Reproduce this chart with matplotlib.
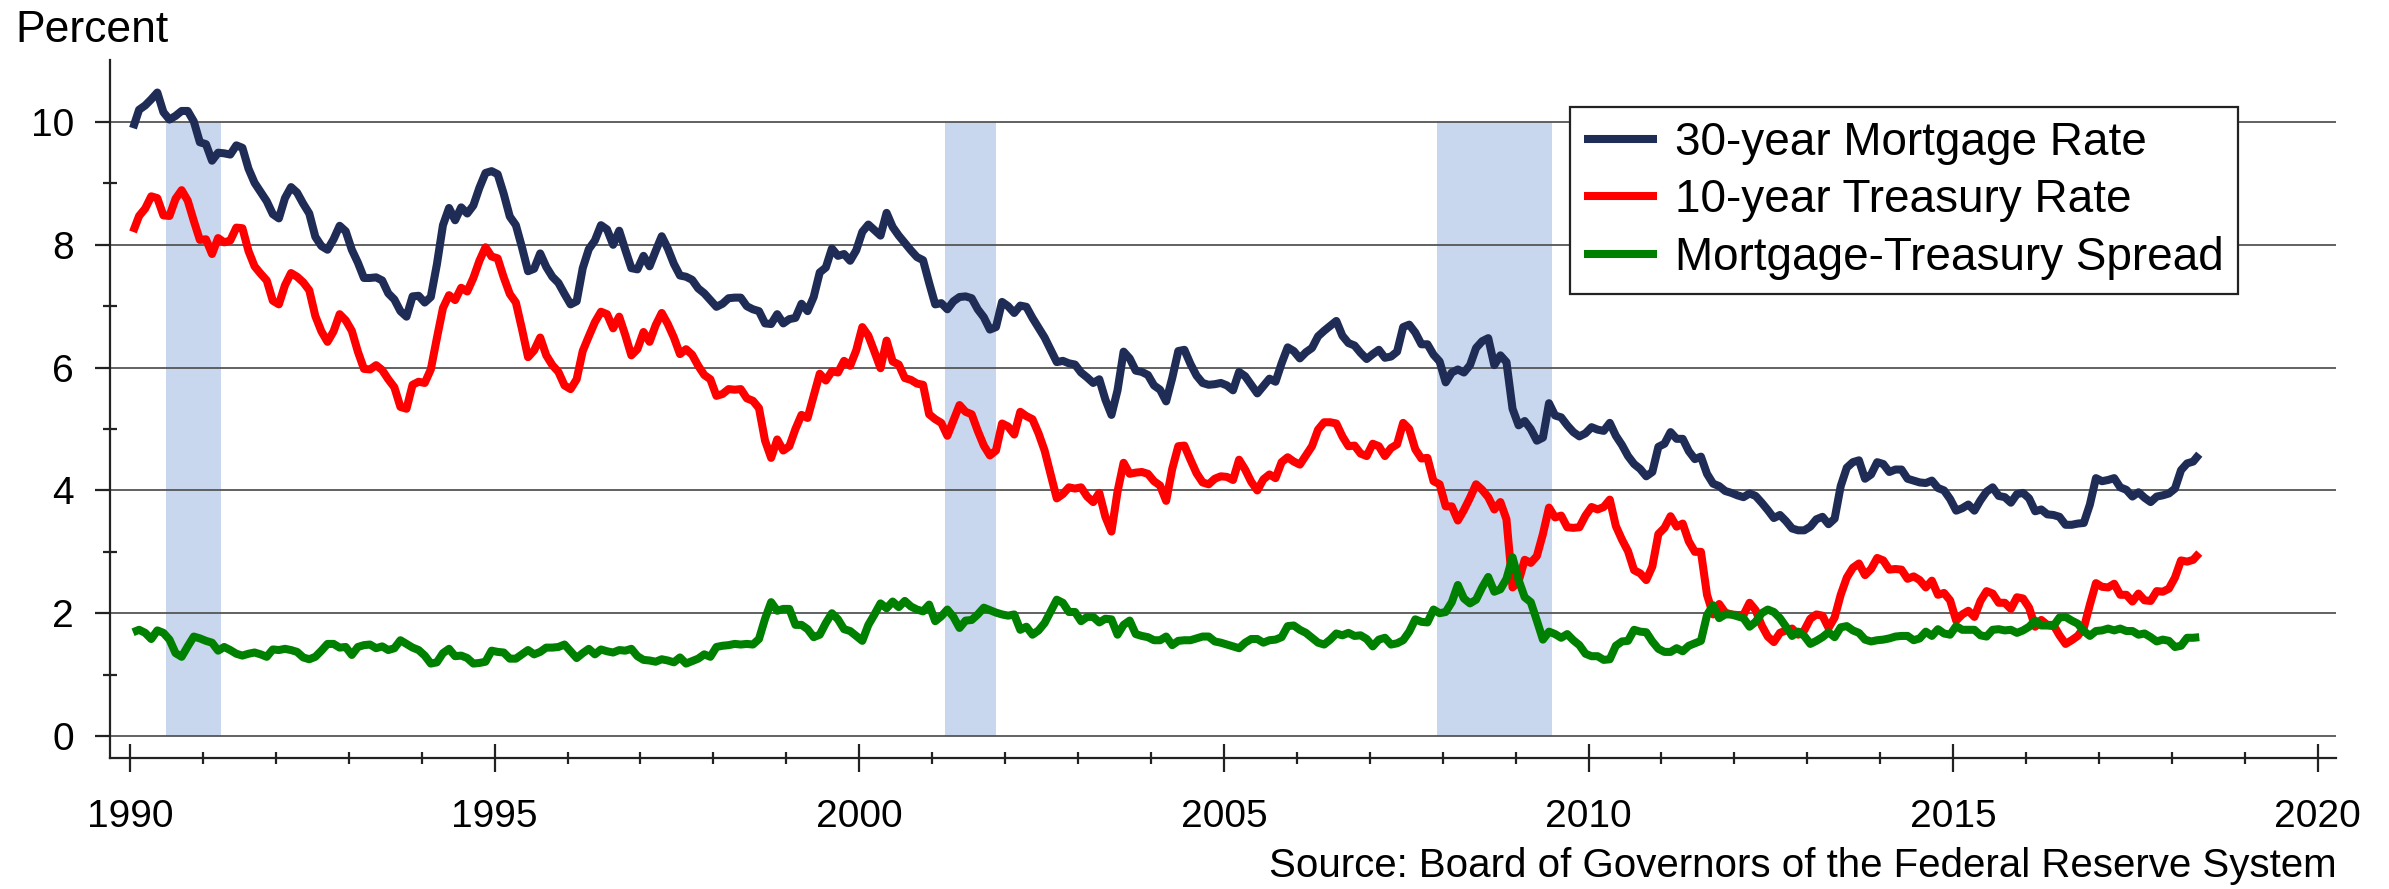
import matplotlib
matplotlib.use("Agg")
import matplotlib.pyplot as plt
import numpy as np
from matplotlib.ticker import MultipleLocator, FixedLocator

plt.rcParams['font.family'] = ['Liberation Sans', 'DejaVu Sans']

start_year = 1990

# 30-year mortgage rate, monthly (Jan 1990 - May 2018)
mortgage_rate = [
    9.90, 10.20, 10.27, 10.37, 10.48, 10.16, 10.04, 10.10, 10.18, 10.18, 10.01, 9.67,   # 1990
    9.64, 9.37, 9.50, 9.49, 9.47, 9.62, 9.58, 9.24, 9.01, 8.86, 8.71, 8.50,            # 1991
    8.43, 8.76, 8.94, 8.85, 8.67, 8.51, 8.13, 7.98, 7.92, 8.09, 8.31, 8.22,            # 1992
    7.92, 7.71, 7.46, 7.46, 7.47, 7.42, 7.21, 7.11, 6.92, 6.83, 7.16, 7.17,            # 1993
    7.06, 7.15, 7.68, 8.32, 8.60, 8.40, 8.61, 8.51, 8.64, 8.93, 9.17, 9.20,            # 1994
    9.15, 8.83, 8.46, 8.32, 7.96, 7.57, 7.61, 7.86, 7.64, 7.48, 7.38, 7.20,            # 1995
    7.03, 7.08, 7.62, 7.93, 8.07, 8.32, 8.25, 8.00, 8.23, 7.92, 7.62, 7.60,            # 1996
    7.82, 7.65, 7.90, 8.14, 7.94, 7.69, 7.50, 7.48, 7.43, 7.29, 7.21, 7.10,            # 1997
    6.99, 7.04, 7.13, 7.14, 7.14, 7.00, 6.95, 6.92, 6.72, 6.71, 6.87, 6.72,            # 1998
    6.79, 6.81, 7.04, 6.92, 7.15, 7.55, 7.63, 7.94, 7.82, 7.85, 7.74, 7.91,            # 1999
    8.21, 8.33, 8.24, 8.15, 8.52, 8.29, 8.15, 8.03, 7.91, 7.80, 7.75, 7.38,            # 2000
    7.03, 7.05, 6.95, 7.08, 7.15, 7.16, 7.13, 6.95, 6.82, 6.62, 6.66, 7.07,            # 2001
    7.00, 6.89, 7.01, 6.99, 6.81, 6.65, 6.49, 6.29, 6.09, 6.11, 6.07, 6.05,            # 2002
    5.92, 5.84, 5.75, 5.81, 5.48, 5.23, 5.63, 6.26, 6.15, 5.95, 5.93, 5.88,            # 2003
    5.71, 5.64, 5.45, 5.83, 6.27, 6.29, 6.06, 5.87, 5.75, 5.72, 5.73, 5.75,            # 2004
    5.71, 5.63, 5.93, 5.86, 5.72, 5.58, 5.70, 5.82, 5.77, 6.07, 6.33, 6.27,            # 2005
    6.15, 6.25, 6.32, 6.51, 6.60, 6.68, 6.76, 6.52, 6.40, 6.36, 6.24, 6.14,            # 2006
    6.22, 6.29, 6.16, 6.18, 6.26, 6.66, 6.70, 6.57, 6.38, 6.38, 6.21, 6.10,            # 2007
    5.76, 5.92, 5.97, 5.92, 6.04, 6.32, 6.43, 6.48, 6.04, 6.20, 6.09, 5.33,            # 2008
    5.06, 5.13, 5.00, 4.81, 4.86, 5.42, 5.22, 5.19, 5.06, 4.95, 4.88, 4.93,            # 2009
    5.03, 4.99, 4.97, 5.10, 4.89, 4.74, 4.56, 4.43, 4.35, 4.23, 4.30, 4.71,            # 2010
    4.76, 4.95, 4.84, 4.84, 4.64, 4.51, 4.55, 4.27, 4.11, 4.07, 3.99, 3.96,            # 2011
    3.92, 3.89, 3.95, 3.91, 3.80, 3.68, 3.55, 3.60, 3.50, 3.38, 3.35, 3.35,            # 2012
    3.41, 3.53, 3.57, 3.45, 3.54, 4.07, 4.37, 4.46, 4.49, 4.19, 4.26, 4.46,            # 2013
    4.43, 4.30, 4.34, 4.34, 4.19, 4.16, 4.13, 4.12, 4.16, 4.04, 4.00, 3.86,            # 2014
    3.67, 3.71, 3.77, 3.67, 3.84, 3.98, 4.05, 3.91, 3.89, 3.80, 3.94, 3.96,            # 2015
    3.87, 3.66, 3.69, 3.61, 3.60, 3.57, 3.44, 3.44, 3.46, 3.47, 3.77, 4.20,            # 2016
    4.15, 4.17, 4.20, 4.05, 4.01, 3.90, 3.97, 3.88, 3.81, 3.90, 3.92, 3.95,            # 2017
    4.03, 4.33, 4.44, 4.47, 4.59,                                                      # 2018
]

# 10-year Treasury rate, monthly
treasury_rate = [
    8.21, 8.47, 8.59, 8.79, 8.76, 8.48, 8.47, 8.75, 8.89, 8.72, 8.39, 8.08,   # 1990
    8.09, 7.85, 8.11, 8.04, 8.07, 8.28, 8.27, 7.90, 7.65, 7.53, 7.42, 7.09,   # 1991
    7.03, 7.34, 7.54, 7.48, 7.39, 7.26, 6.84, 6.59, 6.42, 6.59, 6.87, 6.77,   # 1992
    6.60, 6.26, 5.98, 5.97, 6.04, 5.96, 5.81, 5.68, 5.36, 5.33, 5.72, 5.77,   # 1993
    5.75, 5.97, 6.48, 6.97, 7.18, 7.10, 7.30, 7.24, 7.46, 7.74, 7.96, 7.81,   # 1994
    7.78, 7.47, 7.20, 7.06, 6.63, 6.17, 6.28, 6.49, 6.20, 6.04, 5.93, 5.71,   # 1995
    5.65, 5.81, 6.27, 6.51, 6.74, 6.91, 6.87, 6.64, 6.83, 6.53, 6.20, 6.30,   # 1996
    6.58, 6.42, 6.69, 6.89, 6.71, 6.49, 6.22, 6.30, 6.21, 6.03, 5.88, 5.81,   # 1997
    5.54, 5.57, 5.65, 5.64, 5.65, 5.50, 5.46, 5.34, 4.81, 4.53, 4.83, 4.65,   # 1998
    4.72, 5.00, 5.23, 5.18, 5.54, 5.90, 5.79, 5.94, 5.92, 6.11, 6.03, 6.28,   # 1999
    6.66, 6.52, 6.26, 5.99, 6.44, 6.10, 6.05, 5.83, 5.80, 5.74, 5.72, 5.24,   # 2000
    5.16, 5.10, 4.89, 5.14, 5.39, 5.28, 5.24, 4.97, 4.73, 4.57, 4.65, 5.09,   # 2001
    5.04, 4.91, 5.28, 5.21, 5.16, 4.93, 4.65, 4.26, 3.87, 3.94, 4.05, 4.03,   # 2002
    4.05, 3.90, 3.81, 3.96, 3.57, 3.33, 3.98, 4.45, 4.27, 4.29, 4.30, 4.27,   # 2003
    4.15, 4.08, 3.83, 4.35, 4.72, 4.73, 4.50, 4.28, 4.13, 4.10, 4.19, 4.23,   # 2004
    4.22, 4.17, 4.50, 4.34, 4.14, 4.00, 4.18, 4.26, 4.20, 4.46, 4.54, 4.47,   # 2005
    4.42, 4.57, 4.72, 4.99, 5.11, 5.11, 5.09, 4.88, 4.72, 4.73, 4.60, 4.56,   # 2006
    4.76, 4.72, 4.56, 4.69, 4.75, 5.10, 5.00, 4.67, 4.52, 4.53, 4.15, 4.10,   # 2007
    3.74, 3.74, 3.51, 3.68, 3.88, 4.10, 4.01, 3.89, 3.69, 3.81, 3.53, 2.42,   # 2008
    2.52, 2.87, 2.82, 2.93, 3.29, 3.72, 3.56, 3.59, 3.40, 3.39, 3.40, 3.59,   # 2009
    3.73, 3.69, 3.73, 3.85, 3.42, 3.20, 3.01, 2.70, 2.65, 2.54, 2.76, 3.29,   # 2010
    3.39, 3.58, 3.41, 3.46, 3.17, 3.00, 3.00, 2.30, 1.98, 2.15, 2.01, 1.98,   # 2011
    1.97, 1.97, 2.17, 2.05, 1.80, 1.62, 1.53, 1.68, 1.72, 1.75, 1.65, 1.72,   # 2012
    1.91, 1.98, 1.96, 1.76, 1.93, 2.30, 2.58, 2.74, 2.81, 2.62, 2.72, 2.90,   # 2013
    2.86, 2.71, 2.72, 2.71, 2.56, 2.60, 2.54, 2.42, 2.53, 2.30, 2.33, 2.21,   # 2014
    1.88, 1.98, 2.04, 1.94, 2.20, 2.36, 2.32, 2.17, 2.17, 2.07, 2.26, 2.24,   # 2015
    2.09, 1.78, 1.89, 1.81, 1.81, 1.64, 1.50, 1.56, 1.63, 1.76, 2.14, 2.49,   # 2016
    2.43, 2.42, 2.48, 2.30, 2.30, 2.19, 2.32, 2.21, 2.20, 2.36, 2.35, 2.40,   # 2017
    2.58, 2.86, 2.84, 2.87, 2.98,                                             # 2018
]

# Mortgage-Treasury spread, monthly
spread = [
    1.69, 1.73, 1.68, 1.58, 1.72, 1.68, 1.57, 1.35, 1.29, 1.46, 1.62, 1.59,   # 1990
    1.55, 1.52, 1.39, 1.45, 1.40, 1.34, 1.31, 1.34, 1.36, 1.33, 1.29, 1.41,   # 1991
    1.40, 1.42, 1.40, 1.37, 1.28, 1.25, 1.29, 1.39, 1.50, 1.50, 1.44, 1.45,   # 1992
    1.32, 1.45, 1.48, 1.49, 1.43, 1.46, 1.40, 1.43, 1.56, 1.50, 1.44, 1.40,   # 1993
    1.31, 1.18, 1.20, 1.35, 1.42, 1.30, 1.31, 1.27, 1.18, 1.19, 1.21, 1.39,   # 1994
    1.37, 1.36, 1.26, 1.26, 1.33, 1.40, 1.33, 1.37, 1.44, 1.44, 1.45, 1.49,   # 1995
    1.38, 1.27, 1.35, 1.42, 1.33, 1.41, 1.38, 1.36, 1.40, 1.39, 1.42, 1.30,   # 1996
    1.24, 1.23, 1.21, 1.25, 1.23, 1.20, 1.28, 1.18, 1.22, 1.26, 1.33, 1.29,   # 1997
    1.45, 1.47, 1.48, 1.50, 1.49, 1.50, 1.49, 1.58, 1.91, 2.18, 2.04, 2.07,   # 1998
    2.07, 1.81, 1.81, 1.74, 1.61, 1.65, 1.84, 2.00, 1.90, 1.74, 1.71, 1.63,   # 1999
    1.55, 1.81, 1.98, 2.16, 2.08, 2.19, 2.10, 2.20, 2.11, 2.06, 2.03, 2.14,   # 2000
    1.87, 1.95, 2.06, 1.94, 1.76, 1.88, 1.89, 1.98, 2.09, 2.05, 2.01, 1.98,   # 2001
    1.96, 1.98, 1.73, 1.78, 1.65, 1.72, 1.84, 2.03, 2.22, 2.17, 2.02, 2.02,   # 2002
    1.87, 1.94, 1.94, 1.85, 1.91, 1.90, 1.65, 1.81, 1.88, 1.66, 1.63, 1.61,   # 2003
    1.56, 1.56, 1.62, 1.48, 1.55, 1.56, 1.56, 1.59, 1.62, 1.62, 1.54, 1.52,   # 2004
    1.49, 1.46, 1.43, 1.52, 1.58, 1.58, 1.52, 1.56, 1.57, 1.61, 1.79, 1.80,   # 2005
    1.73, 1.68, 1.60, 1.52, 1.49, 1.57, 1.67, 1.64, 1.68, 1.63, 1.64, 1.58,   # 2006
    1.46, 1.57, 1.60, 1.49, 1.51, 1.56, 1.70, 1.90, 1.86, 1.85, 2.06, 2.00,   # 2007
    2.02, 2.18, 2.46, 2.24, 2.16, 2.22, 2.42, 2.59, 2.35, 2.39, 2.56, 2.91,   # 2008
    2.54, 2.26, 2.18, 1.88, 1.57, 1.70, 1.66, 1.60, 1.66, 1.56, 1.48, 1.34,   # 2009
    1.30, 1.30, 1.24, 1.25, 1.47, 1.54, 1.55, 1.73, 1.70, 1.69, 1.54, 1.42,   # 2010
    1.37, 1.37, 1.43, 1.38, 1.47, 1.51, 1.55, 1.97, 2.13, 1.92, 1.98, 1.98,   # 2011
    1.95, 1.92, 1.78, 1.86, 2.00, 2.06, 2.02, 1.92, 1.78, 1.63, 1.70, 1.63,   # 2012
    1.50, 1.55, 1.61, 1.69, 1.61, 1.77, 1.79, 1.72, 1.68, 1.57, 1.54, 1.56,   # 2013
    1.57, 1.59, 1.62, 1.63, 1.63, 1.56, 1.59, 1.70, 1.63, 1.74, 1.67, 1.65,   # 2014
    1.79, 1.73, 1.73, 1.73, 1.64, 1.62, 1.73, 1.74, 1.72, 1.73, 1.68, 1.72,   # 2015
    1.78, 1.88, 1.80, 1.80, 1.79, 1.93, 1.94, 1.88, 1.83, 1.71, 1.63, 1.71,   # 2016
    1.72, 1.75, 1.72, 1.75, 1.71, 1.71, 1.65, 1.67, 1.61, 1.54, 1.57, 1.55,   # 2017
    1.45, 1.47, 1.60, 1.60, 1.61,                                             # 2018
]

series_labels = ["30-year Mortgage Rate", "10-year Treasury Rate", "Mortgage-Treasury Spread"]
series_colors = ["#1F2C56", "#FF0000", "#008000"]

recession_start = [1990.50, 2001.17, 2007.92]
recession_end = [1991.25, 2001.88, 2009.50]

x_ticks = [1990, 1995, 2000, 2005, 2010, 2015, 2020]
y_ticks = [0, 2, 4, 6, 8, 10]

W, H = 2389, 889
fig = plt.figure(figsize=(W / 100, H / 100), dpi=100)
ax = fig.add_axes([110 / W, (H - 758) / H, (2336 - 110) / W, (758 - 60) / H])

n = len(mortgage_rate)
dates = start_year + (np.arange(n) + 0.5) / 12.0

for s, e in zip(recession_start, recession_end):
    ax.fill_between([s, e], 0, 10, color="#C9D7EE", linewidth=0, zorder=1)

for vals, lab, col in zip([mortgage_rate, treasury_rate, spread], series_labels, series_colors):
    ax.plot(dates, vals, color=col, linewidth=5.8, label=lab, zorder=3,
            solid_joinstyle='round', solid_capstyle='butt')

ax.set_xlim(1989.726, 2020.25)
ax.set_ylim(-0.358, 11.01)

for sp in ['top', 'right']:
    ax.spines[sp].set_visible(False)
for sp in ['left', 'bottom']:
    ax.spines[sp].set_linewidth(1.6)
    ax.spines[sp].set_color('#222222')

ax.set_yticks(y_ticks)
ax.yaxis.set_minor_locator(FixedLocator([1, 3, 5, 7, 9]))
ax.set_xticks(x_ticks)
ax.xaxis.set_minor_locator(MultipleLocator(1))

ax.tick_params(axis='y', which='major', direction='out', length=11, width=1.6,
               labelsize=28, pad=15, color='#222222')
ax.tick_params(axis='y', which='minor', direction='inout', length=10, width=1.6, color='#222222')
ax.tick_params(axis='x', which='major', direction='inout', length=19.5, width=1.6,
               labelsize=28, pad=20, color='#222222')
ax.tick_params(axis='x', which='minor', direction='inout', length=8.6, width=1.6, color='#222222')

ax.yaxis.grid(True, which='major', color='#555555', linewidth=1.3, zorder=1.5)
ax.xaxis.grid(False)

leg = ax.legend(loc='upper left', bbox_to_anchor=(1570 / W, 1 - 107 / H),
                bbox_transform=fig.transFigure, borderaxespad=0, fontsize=33,
                frameon=True, fancybox=False, framealpha=1, edgecolor='#222222',
                handlelength=1.6, handletextpad=0.4, labelspacing=0.3,
                borderpad=0.3)
leg.get_frame().set_linewidth(1.6)
leg.set_zorder(5)

fig.text(15 / W, 1 - 42 / H, "Percent", fontsize=32, ha='left', va='baseline')
fig.text(2337 / W, 12 / H, "Source: Board of Governors of the Federal Reserve System",
         fontsize=29, ha='right', va='baseline')

fig.savefig("out.png", dpi=100)
